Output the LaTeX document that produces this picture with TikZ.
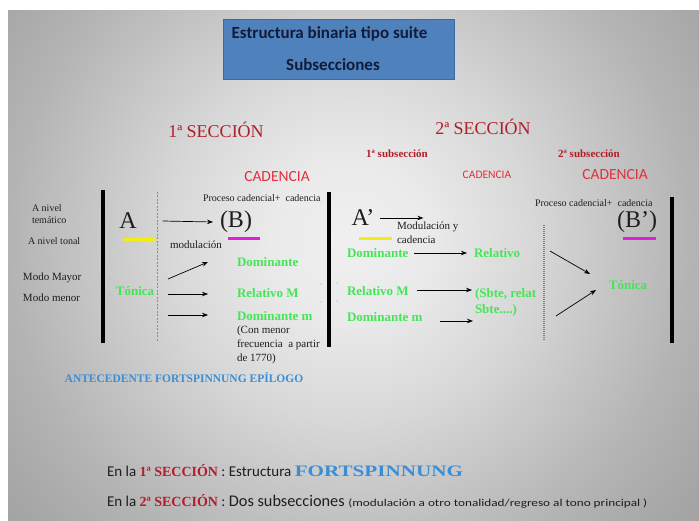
\documentclass[tikz,border=0pt]{standalone}
\usepackage{fontspec}
\usepackage{graphicx}
\setmainfont{Liberation Serif}
\newfontfamily\calib{Carlito}
\usetikzlibrary{arrows.meta}
\definecolor{titlebox}{HTML}{4F81BD}
\definecolor{titleedge}{HTML}{3C6AA0}
\definecolor{titletext}{HTML}{121C38}
\definecolor{secred}{HTML}{B01E2A}
\definecolor{cadred}{HTML}{E2303F}
\definecolor{grn}{HTML}{44E655}
\definecolor{bluetxt}{HTML}{3A8ED6}
\definecolor{yel}{HTML}{F2EE10}
\definecolor{mag}{HTML}{E020D8}
\definecolor{bga}{HTML}{F0F0F0}
\definecolor{bgb}{HTML}{EAEAEA}
\definecolor{bgc}{HTML}{D8D8D8}
\definecolor{bgd}{HTML}{C6C6C6}
\definecolor{bge}{HTML}{B4B4B4}
\definecolor{bgf}{HTML}{A6A6A6}
\definecolor{bgg}{HTML}{9A9A9A}
\definecolor{bgh}{HTML}{949494}
\definecolor{txt}{HTML}{1E1E1E}
\pgfdeclareradialshading{slidebg}{\pgfpoint{0bp}{0bp}}{color(0bp)=(bga); color(4bp)=(bgb); color(9bp)=(bgc); color(13bp)=(bgd); color(17bp)=(bge); color(21bp)=(bgf); color(26bp)=(bgg); color(50bp)=(bgh)}
\tikzset{
  txtnode/.style={inner sep=0pt, outer sep=0pt, text=txt},
  lbl/.style={txtnode, font=\fontsize{10}{12}\selectfont},
  lbltwo/.style={txtnode, font=\fontsize{11}{14}\selectfont},
  big/.style={txtnode, font=\fontsize{24}{24}\selectfont},
  grntxt/.style={txtnode, text=grn, font=\fontsize{13}{16}\selectfont\bfseries},
  sec/.style={txtnode, text=secred, font=\fontsize{18}{18}\selectfont},
  subsec/.style={txtnode, text=secred, font=\fontsize{11}{11}\selectfont\bfseries},
  cad/.style={txtnode, text=cadred, font=\calib\fontsize{15.5}{15.5}\selectfont},
  cadsm/.style={txtnode, text=cadred, font=\calib\fontsize{11.5}{11.5}\selectfont},
  bar/.style={line width=3.5pt, black},
  arr/.style={line width=0.7pt, -{Stealth[length=6pt,width=4.5pt]}},
  yelbar/.style={line width=3pt, yel},
  magbar/.style={line width=3pt, mag},
  speck/.style={fill=gray!70, draw=none, circle, inner sep=0pt, minimum size=1.3pt},
}
\begin{document}
\begin{tikzpicture}[x=1pt,y=-1pt]
\useasboundingbox (0,0) rectangle (699,521);
\fill[white] (0,0) rectangle (699,521);
\begin{scope}
  \clip (8,11) rectangle (699,521);
  \shade[shading=slidebg] (-150,-260) rectangle (850,740);
\end{scope}

% title
\node[draw=titleedge, fill=titlebox, minimum width=231pt, minimum height=60pt, inner sep=0pt] (tbox) at (338.5,49) {};
\node[txtnode, text=titletext, font=\calib\bfseries\fontsize{17}{17}\selectfont] (t1) at (329.5,34) {Estructura binaria tipo suite};
\node[txtnode, text=titletext, font=\calib\bfseries\fontsize{17}{17}\selectfont] (t2) at (333,65) {Subsecciones};

% headings
\node[sec] (s1) at (216,130) {1ª SECCIÓN};
\node[sec] (s2) at (483,127) {2ª SECCIÓN};
\node[subsec] (ss1) at (397,154) {1ª subsección};
\node[subsec] (ss2) at (589,154) {2ª subsección};
\node[cad] (c1) at (277,177) {CADENCIA};
\node[cadsm] (c2) at (487,175) {CADENCIA};
\node[cad] (c3) at (615,175) {CADENCIA};

% bars and separators
\coordinate (b1t) at (103,190); \coordinate (b1b) at (103,343);
\coordinate (b2t) at (329,192); \coordinate (b2b) at (329,347);
\coordinate (b3t) at (672,197); \coordinate (b3b) at (672,343);
\draw[bar] (b1t) -- (b1b);
\draw[bar] (b2t) -- (b2b);
\draw[bar] (b3t) -- (b3b);
\coordinate (o1t) at (157,192); \coordinate (o1b) at (157,342);
\draw[orange!85!red, line width=0.6pt, dash pattern=on 2pt off 1.5pt] (o1t) -- (o1b);
\coordinate (g1t) at (544,225); \coordinate (g1b) at (544,340);
\draw[gray, line width=1.3pt, dash pattern=on 1pt off 1pt] (g1t) -- (g1b);

% left labels
\node[lbl, anchor=west, align=left] (an) at (32,214) {A nivel\\temático};
\node[lbl, anchor=west] (at) at (28,241) {A nivel tonal};
\node[lbltwo, anchor=west] (mM) at (23,278) {Modo Mayor};
\node[lbltwo, anchor=west] (mm) at (23,298) {Modo menor};

% section 1
\node[big] (A) at (128,221) {A};
\node[big] (B) at (236,222) {(B)};
\draw[arr] ([xshift=26pt]A.east) -- ([xshift=-7pt]B.west);
\coordinate (y1a) at (123,240); \coordinate (y1b) at (156,240);
\draw[yelbar] (y1a) -- (y1b);
\coordinate (m1a) at (228,239); \coordinate (m1b) at (260,239);
\draw[magbar] (m1a) -- (m1b);
\node[lbltwo] (mod) at (196,245) {modulación};
\node[lbl, anchor=west] (pc1) at (203,198) {Proceso cadencial+~~cadencia};
\node[grntxt] (ton1) at (135,291) {Tónica};
\node[grntxt, anchor=west] (dom1) at (237,262) {Dominante};
\node[grntxt, anchor=west] (rel1) at (237,293) {Relativo M};
\node[grntxt, anchor=west] (domm1) at (237,316) {Dominante m};
\coordinate (a1s) at (168,279); \coordinate (a1e) at (208,262);
\coordinate (a2s) at (168,294); \coordinate (a2e) at (208,294);
\coordinate (a3s) at (168,315); \coordinate (a3e) at (208,315);
\draw[arr] (a1s) -- (a1e);
\draw[arr] (a2s) -- (a2e);
\draw[arr] (a3s) -- (a3e);
\node[lbltwo, anchor=north west, align=left] (con) at (237,326) {(Con menor\\frecuencia~~a partir\\de 1770)};
\node[txtnode, text=bluetxt, font=\fontsize{11.5}{11.5}\selectfont\bfseries] (ant) at (184,378) {ANTECEDENTE FORTSPINNUNG EPÍLOGO};

% section 2
\node[big] (A2) at (363,218) {A’};
\draw[arr] ([xshift=6pt]A2.east) -- ++(43,0) coordinate (a4e);
\node[lbltwo, anchor=north west, align=left] (modc) at (397,222) {Modulación y\\cadencia};
\coordinate (y2a) at (359,239); \coordinate (y2b) at (392,239);
\draw[yelbar] (y2a) -- (y2b);
\node[grntxt, anchor=west] (dom2) at (347,253) {Dominante};
\node[grntxt, anchor=west] (rel2) at (474,253) {Relativo};
\draw[arr] ([xshift=6pt]dom2.east) -- ([xshift=-7pt]rel2.west);
\node[grntxt, anchor=west] (relM2) at (347,291) {Relativo M};
\node[grntxt, anchor=north west, align=left] (sbte) at (475,288) {(Sbte, relat\\Sbte....)};
\coordinate (a5s) at (417,290); \coordinate (a5e) at (472,290);
\draw[arr] (a5s) -- (a5e);
\node[grntxt, anchor=west] (domm2) at (347,317) {Dominante m};
\coordinate (a6s) at (440,321); \coordinate (a6e) at (473,321);
\draw[arr] (a6s) -- (a6e);
\node[grntxt] (ton2) at (628,285) {Tónica};
\coordinate (a7s) at (550,251); \coordinate (a7e) at (590,274);
\coordinate (a8s) at (556,316); \coordinate (a8e) at (596,290);
\draw[arr] (a7s) -- (a7e);
\draw[arr] (a8s) -- (a8e);
\node[lbl, anchor=west] (pc2) at (535,203) {Proceso cadencial+~~cadencia};
\node[big] (B2) at (637,222) {(B’)};
\coordinate (m2a) at (623,239); \coordinate (m2b) at (656,239);
\draw[magbar] (m2a) -- (m2b);

% specks
\foreach \p in {(110,279),(110,294),(321,284),(321,302),(337,283),(337,301),(663,269),(663,290)}
  \node[speck] at \p {};

% bottom lines
\node[txtnode, anchor=west] (bl1) at (107,471) {{\calib\fontsize{15}{15}\selectfont En la }{\color{secred}\fontsize{14}{14}\selectfont\bfseries 1ª SECCIÓN}{\calib\fontsize{15}{15}\selectfont\ : Estructura }{\color{bluetxt}\fontsize{16}{16}\selectfont\bfseries\scalebox{1.32}[1]{FORTSPINNUNG}}};
\node[txtnode, anchor=west] (bl2) at (107,501) {{\calib\fontsize{15}{15}\selectfont En la }{\color{secred}\fontsize{14}{14}\selectfont\bfseries 2ª SECCIÓN}{\calib\fontsize{15}{15}\selectfont\ : }{\calib\fontsize{16.3}{16.3}\selectfont Dos subsecciones }{\calib\fontsize{10.5}{10.5}\selectfont\scalebox{1.26}[1]{(modulación a otro tonalidad/regreso al tono principal )}}};
\end{tikzpicture}
\end{document}
